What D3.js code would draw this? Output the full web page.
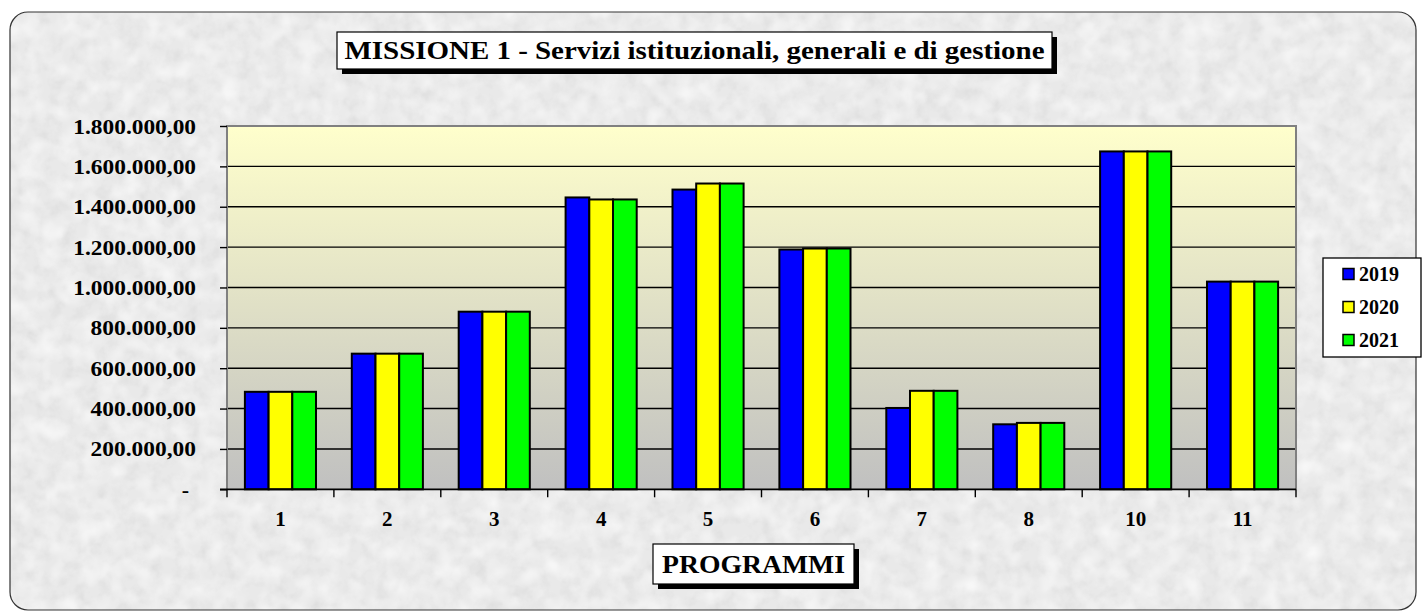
<!DOCTYPE html>
<html><head><meta charset="utf-8">
<script src="https://cdn.jsdelivr.net/npm/d3@7"></script>
<style>
html,body{margin:0;padding:0;background:#fff;}
svg{display:block;}
text{font-family:"Liberation Serif","DejaVu Serif",serif;font-weight:bold;fill:#000;}
</style></head>
<body>
<svg id="chart" width="1422" height="611"></svg>
<script>
const categories = ["1","2","3","4","5","6","7","8","10","11"];
const seriesNames = ["2019","2020","2021"];
const values2019 = [483000, 672000, 880000, 1446000, 1485000, 1188000, 403000, 322000, 1674000, 1029000];
const values2020 = [483000, 672000, 880000, 1436000, 1515000, 1193000, 488000, 329000, 1674000, 1029000];
const values2021 = [483000, 672000, 880000, 1436000, 1515000, 1193000, 488000, 329000, 1674000, 1029000];
const seriesColors = ["#0000ff", "#ffff00", "#00ff00"];
const yTicks = [0, 200000, 400000, 600000, 800000, 1000000, 1200000, 1400000, 1600000, 1800000];
const titleText = "MISSIONE 1 - Servizi istituzionali, generali e di gestione";
const xAxisTitle = "PROGRAMMI";

const seriesValues = [values2019, values2020, values2021];
const data = categories.map((c, i) => ({cat: c, vals: seriesNames.map((s, j) => ({s, j, v: seriesValues[j][i]}))}));

const svg = d3.select("#chart");
const defs = svg.append("defs");

// textured background (dark speckles + light patches)
const f = defs.append("filter").attr("id","marble").attr("x",0).attr("y",0).attr("width","100%").attr("height","100%");
f.append("feTurbulence").attr("type","fractalNoise").attr("baseFrequency","0.08").attr("numOctaves",3).attr("seed",4).attr("result","n");
f.append("feColorMatrix").attr("in","n").attr("type","matrix")
 .attr("values","0 0 0 0 0.6  0 0 0 0 0.6  0 0 0 0 0.6  0.7 0 0 0 -0.3").attr("result","c");
f.append("feComposite").attr("in","c").attr("in2","SourceGraphic").attr("operator","in");
const f2 = defs.append("filter").attr("id","marble2").attr("x",0).attr("y",0).attr("width","100%").attr("height","100%");
f2.append("feTurbulence").attr("type","fractalNoise").attr("baseFrequency","0.05").attr("numOctaves",2).attr("seed",11).attr("result","n");
f2.append("feColorMatrix").attr("in","n").attr("type","matrix")
 .attr("values","0 0 0 0 1  0 0 0 0 1  0 0 0 0 1  1.2 0 0 0 -0.45").attr("result","c");
f2.append("feComposite").attr("in","c").attr("in2","SourceGraphic").attr("operator","in");

const grad = defs.append("linearGradient").attr("id","plotGrad").attr("x1",0).attr("y1",0).attr("x2",0).attr("y2",1);
grad.append("stop").attr("offset","0%").attr("stop-color","#ffffcc");
grad.append("stop").attr("offset","100%").attr("stop-color","#c0c0c0");

const frame = {x:10, y:12, w:1406, h:598, r:18};
svg.append("rect").attr("x",frame.x).attr("y",frame.y).attr("width",frame.w).attr("height",frame.h)
  .attr("rx",frame.r).attr("fill","#e9e9e9");
svg.append("rect").attr("x",frame.x).attr("y",frame.y).attr("width",frame.w).attr("height",frame.h)
  .attr("rx",frame.r).attr("fill","#e9e9e9").attr("filter","url(#marble)");
svg.append("rect").attr("x",frame.x).attr("y",frame.y).attr("width",frame.w).attr("height",frame.h)
  .attr("rx",frame.r).attr("fill","#e9e9e9").attr("filter","url(#marble2)");
svg.append("rect").attr("x",frame.x).attr("y",frame.y).attr("width",frame.w).attr("height",frame.h)
  .attr("rx",frame.r).attr("fill","none").attr("stroke","#333").attr("stroke-width",1.2);

// plot area
const plot = {left:227, right:1296, top:126, bottom:489.3};
const x0 = d3.scaleBand().domain(categories).range([plot.left, plot.right]).paddingInner(0).paddingOuter(0);
const x1 = d3.scaleBand().domain(seriesNames).range([0, x0.bandwidth()]).paddingInner(0).paddingOuter(0.755);
const y = d3.scaleLinear().domain([0, 1800000]).range([plot.bottom, plot.top]);

svg.append("rect").attr("x",plot.left).attr("y",plot.top).attr("width",plot.right-plot.left)
  .attr("height",plot.bottom-plot.top).attr("fill","url(#plotGrad)");

// gridlines
svg.append("g").selectAll("line").data(yTicks.filter(t => t>0 && t<1800000)).join("line")
  .attr("x1",plot.left).attr("x2",plot.right).attr("y1",d=>y(d)).attr("y2",d=>y(d))
  .attr("stroke","#000").attr("stroke-width",1.4);

// plot frame
svg.append("path").attr("d",`M${plot.left},${plot.bottom}V${plot.top}H${plot.right}V${plot.bottom}`)
  .attr("fill","none").attr("stroke","#808080").attr("stroke-width",2);

// bars
const groups = svg.append("g").selectAll("g").data(data).join("g")
  .attr("transform", d => `translate(${x0(d.cat)},0)`);
groups.selectAll("rect").data(d => d.vals).join("rect")
  .attr("x", d => x1(d.s)).attr("width", x1.bandwidth())
  .attr("y", d => y(d.v)).attr("height", d => y(0) - y(d.v))
  .attr("fill", d => seriesColors[d.j]).attr("stroke","#000").attr("stroke-width",2);

// axes
const itFmt = d3.formatLocale({decimal:",", thousands:".", grouping:[3], currency:["€",""]}).format(",.2f");
const yAxis = svg.append("g").attr("transform",`translate(${plot.left},0)`)
  .call(d3.axisLeft(y).tickValues(yTicks).tickSize(7).tickPadding(24)
    .tickFormat(d => d === 0 ? "-" : itFmt(d)));
yAxis.select(".domain").remove();
yAxis.selectAll(".tick line").attr("stroke","#000").attr("stroke-width",1.4);
yAxis.selectAll(".tick text").style("font-size","22px").style("font-family","'Liberation Serif',serif")
  .style("font-weight","bold").attr("fill","#000")
  .each(function(d){ if (d !== 0) { const s = this.textContent; const nd = s.replace(/[^0-9]/g,"").length; d3.select(this).attr("textLength", nd*11.8 + (s.length-nd)*5.5).attr("lengthAdjust","spacingAndGlyphs"); } });
yAxis.selectAll(".tick").filter(d => d===0).select("text").attr("x",-38);

const xAxis = svg.append("g").attr("transform",`translate(0,${plot.bottom})`)
  .call(d3.axisBottom(x0).tickSize(0).tickPadding(22));
xAxis.select(".domain").remove();
xAxis.selectAll(".tick text").style("font-size","21px").style("font-family","'Liberation Serif',serif")
  .style("font-weight","bold").attr("fill","#000");
// category boundary ticks
const bounds = categories.map(c => x0(c)).concat([plot.right]);
svg.append("g").selectAll("line").data(bounds).join("line")
  .attr("x1",d=>d).attr("x2",d=>d).attr("y1",plot.bottom).attr("y2",plot.bottom+8)
  .attr("stroke","#000").attr("stroke-width",1.4);
svg.append("line").attr("x1",plot.left-7).attr("x2",plot.right).attr("y1",plot.bottom).attr("y2",plot.bottom)
  .attr("stroke","#000").attr("stroke-width",1.8);

// title box
function labelBox(bx, by, bw, bh, txt, size, tl){
  svg.append("rect").attr("x",bx+5).attr("y",by+5).attr("width",bw).attr("height",bh).attr("fill","#000");
  svg.append("rect").attr("x",bx).attr("y",by).attr("width",bw).attr("height",bh).attr("fill","#fff")
    .attr("stroke","#000").attr("stroke-width",1.2);
  svg.append("text").attr("x",bx+bw/2).attr("y",by+bh/2).attr("text-anchor","middle")
    .attr("dominant-baseline","central").style("font-size",size+"px")
    .attr("textLength",tl).attr("lengthAdjust","spacingAndGlyphs").text(txt);
}
labelBox(337, 32, 715, 37, titleText, 26, 700);
labelBox(653, 544, 201, 40, xAxisTitle, 26, 183);

// legend
const lg = svg.append("g");
lg.append("rect").attr("x",1323).attr("y",258).attr("width",98).attr("height",99)
  .attr("fill","#fff").attr("stroke","#000").attr("stroke-width",1.3);
const rows = lg.selectAll("g").data(seriesNames).join("g")
  .attr("transform",(d,i)=>`translate(1343,${274 + i*33})`);
rows.append("rect").attr("x",0).attr("y",-5.5).attr("width",11).attr("height",11)
  .attr("fill",(d,i)=>seriesColors[i]).attr("stroke","#000").attr("stroke-width",1.5);
rows.append("text").attr("x",16).attr("y",0).attr("dominant-baseline","central")
  .style("font-size","20px").text(d=>d);
</script>
</body></html>
